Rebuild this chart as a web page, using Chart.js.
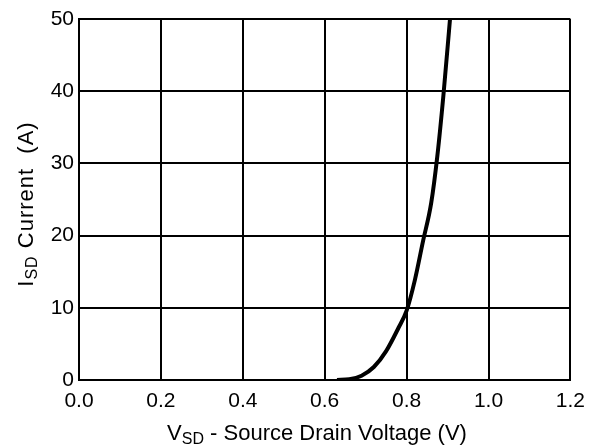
<!DOCTYPE html>
<html>
<head>
<meta charset="utf-8">
<script src="https://cdn.jsdelivr.net/npm/chart.js@4"></script>
<style>
  body { margin: 0; background: #fff; }
  canvas { display: block; }
</style>
</head>
<body>
<canvas id="grafica" width="594" height="446"></canvas>
<script>
// values
const voltaje = [0.63, 0.66, 0.69, 0.72, 0.75, 0.78, 0.80, 0.82, 0.84, 0.86, 0.875, 0.89, 0.906];
const corriente = [0, 0.1, 0.6, 1.8, 4.0, 7.2, 9.6, 13.8, 19.2, 24.5, 31, 39.5, 50];
const xTicks = [0, 0.2, 0.4, 0.6, 0.8, 1.0, 1.2];
const yTicks = [0, 10, 20, 30, 40, 50];

const fuente = '"Liberation Sans", Arial, sans-serif';

// axis titles with subscripts, drawn on the canvas
const titulos = {
  id: 'titulos',
  afterDraw(chart) {
    const ctx = chart.ctx;
    function partes(list, x, y) {
      let total = 0;
      list.forEach(p => { ctx.font = p.size + 'px ' + fuente; total += ctx.measureText(p.t).width; });
      let cx = x - total / 2;
      list.forEach(p => {
        ctx.font = p.size + 'px ' + fuente;
        ctx.fillText(p.t, cx, y + (p.dy || 0));
        cx += ctx.measureText(p.t).width;
      });
    }
    ctx.save();
    ctx.fillStyle = '#000';
    ctx.textBaseline = 'alphabetic';
    ctx.textAlign = 'left';
    partes([
      { t: 'V', size: 22 },
      { t: 'SD', size: 16, dy: 4 },
      { t: ' - Source Drain Voltage (V)', size: 22 }
    ], 317, 440);
    ctx.translate(33, 204);
    ctx.rotate(-Math.PI / 2);
    ctx.letterSpacing = '1px';
    partes([
      { t: 'I', size: 22 },
      { t: 'SD', size: 16, dy: 4 },
      { t: ' Current  (A)', size: 22 }
    ], 0, 0);
    ctx.restore();
  }
};

const ctx = document.getElementById('grafica').getContext('2d');
const grafica = new Chart(ctx, {
  type: 'scatter',
  data: {
    datasets: [{
      data: voltaje.map((v, i) => ({ x: v, y: corriente[i] })),
      showLine: true,
      borderColor: '#000',
      borderWidth: 4,
      pointRadius: 0,
      cubicInterpolationMode: 'monotone',
      fill: false
    }]
  },
  options: {
    responsive: false,
    animation: false,
    layout: { padding: { left: 0, top: 19, right: 21, bottom: 0 } },
    plugins: { legend: { display: false }, tooltip: { enabled: false } },
    scales: {
      x: {
        type: 'linear',
        min: 0,
        max: 1.2,
        afterFit: s => { s.height = 66; },
        afterBuildTicks: s => { s.ticks = xTicks.map(v => ({ value: v })); },
        grid: { color: '#000', lineWidth: 2, drawTicks: false },
        border: { color: '#000', width: 2 },
        ticks: {
          color: '#000',
          padding: 9,
          maxRotation: 0,
          font: { family: fuente, size: 21 },
          callback: v => v.toFixed(1)
        }
      },
      y: {
        min: 0,
        max: 50,
        afterFit: s => { s.width = 79; },
        afterBuildTicks: s => { s.ticks = yTicks.map(v => ({ value: v })); },
        grid: { color: '#000', lineWidth: 2, drawTicks: false },
        border: { color: '#000', width: 2 },
        ticks: {
          color: '#000',
          padding: 5,
          font: { family: fuente, size: 21 }
        }
      }
    }
  },
  plugins: [titulos]
});
</script>
</body>
</html>
